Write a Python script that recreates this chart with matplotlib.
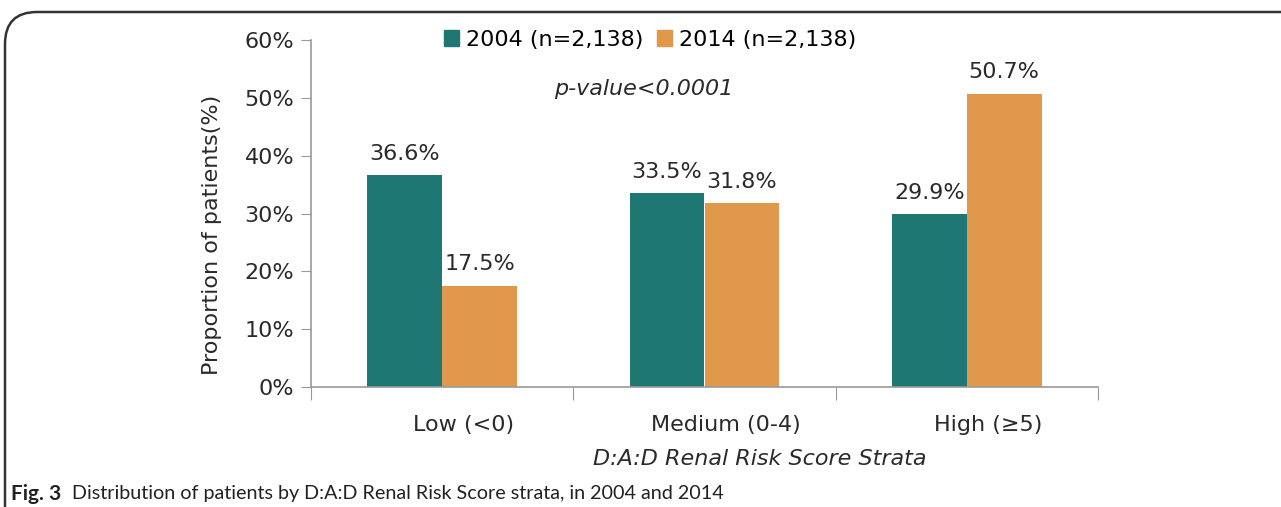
import matplotlib
matplotlib.use("Agg")
import numpy as np
from matplotlib import pyplot as plt
from matplotlib.patches import FancyBboxPatch, Patch

categories = ["Low (<0)", "Medium (0-4)", "High (\u22655)"]
series_names = ["2004 (n=2,138)", "2014 (n=2,138)"]
vals_2004 = [36.6, 33.5, 29.9]
vals_2014 = [17.5, 31.8, 50.7]
yticks = [0, 10, 20, 30, 40, 50, 60]

teal = "#1E7772"
orange = "#DF984C"
txt = "#2a2a2a"

W, H = 1281, 507
fig = plt.figure(figsize=(W / 100, H / 100), dpi=100)
fig.patch.set_facecolor("white")

# outer frame: only top and left edges visible, rounded corner
frame = FancyBboxPatch((5 / W, -0.2), 1.2, (1 - 12 / H) + 0.2,
                       boxstyle="round,pad=0,rounding_size=0.025",
                       transform=fig.transFigure, fill=False,
                       edgecolor="#333333", linewidth=1.8, mutation_aspect=W / H)
fig.patches.append(frame)

ax = fig.add_axes([311 / W, 1 - 387 / H, (1098 - 311) / W, (387 - 40) / H])
x = np.arange(len(categories))
w = 0.285
b1 = ax.bar(x - w / 2, vals_2004, w, color=teal)
b2 = ax.bar(x + w / 2, vals_2014, w, color=orange)

for bars, vals in ((b1, vals_2004), (b2, vals_2014)):
    for r, v in zip(bars, vals):
        ax.text(r.get_x() + r.get_width() / 2, v + 2.0, "%.1f%%" % v,
                ha="center", va="bottom", fontsize=16, color=txt)

ax.set_xlim(-0.5, 2.5)
ax.set_ylim(0, 60)
ax.set_yticks(yticks)
ax.set_yticklabels(["%d%%" % t for t in yticks], fontsize=16, color=txt)
ax.set_xticks([-0.5, 0.5, 1.5, 2.5])
ax.set_xticklabels([])
# category labels sit a little right of the group centres in the original
ax.set_xticks(x + 0.08, minor=True)
ax.set_xticklabels(categories, minor=True, fontsize=16, color=txt)
ax.tick_params(axis="x", which="minor", length=0, pad=20)
ax.tick_params(axis="x", which="major", length=9, color="#999999", direction="out")
ax.tick_params(axis="y", length=7, color="#999999", direction="out", pad=5)
for s in ("top", "right"):
    ax.spines[s].set_visible(False)
for s in ("left", "bottom"):
    ax.spines[s].set_color("#999999")
    ax.spines[s].set_linewidth(1.2)

ax.set_ylabel("Proportion of patients(%)", fontsize=16, color=txt)
ax.yaxis.set_label_coords(-0.113, 0.438)

handles = [Patch(color=teal), Patch(color=orange)]
fig.legend(handles, series_names, loc="center", bbox_to_anchor=(650 / W, 1 - 40 / H),
           ncol=2, frameon=False, handlelength=0.7, handleheight=0.7,
           handletextpad=0.3, columnspacing=0.6, prop={"size": 16})

fig.text(644 / W, 1 - 89 / H, "p-value<0.0001", ha="center", va="center",
         fontsize=16, style="italic", color=txt)
fig.text(760 / W, 1 - 459 / H, "D:A:D Renal Risk Score Strata", ha="center", va="center",
         fontsize=16, style="italic", color=txt)

fig.text(11 / W, 1 - 494 / H, "Fig. 3", ha="left", va="center",
         fontsize=15, weight="bold", family="Lato", color="#222222")
fig.text(72 / W, 1 - 494 / H, "Distribution of patients by D:A:D Renal Risk Score strata, in 2004 and 2014",
         ha="left", va="center", fontsize=14.2, family="Lato", color="#222222")

fig.savefig("out.png", dpi=100)
